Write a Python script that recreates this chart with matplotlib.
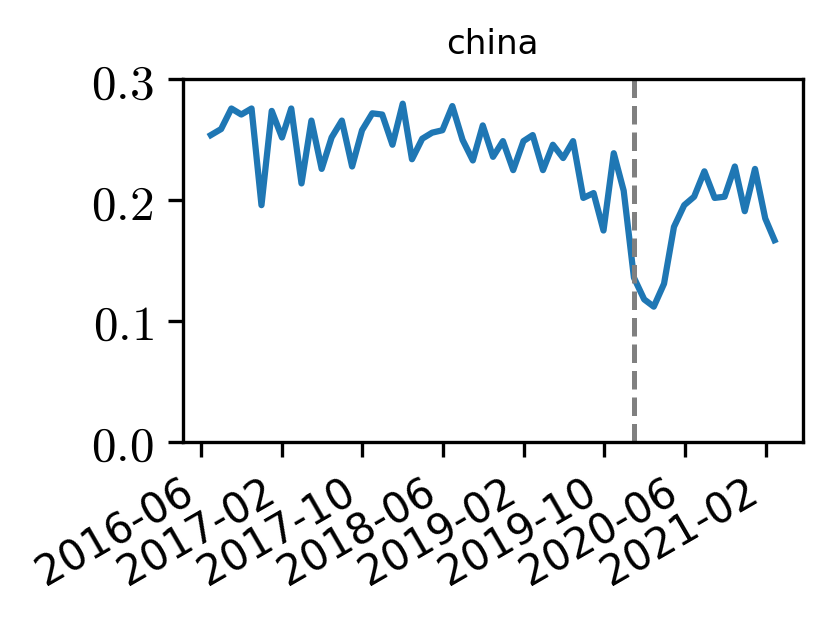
import matplotlib
matplotlib.use("Agg")
import matplotlib.pyplot as plt
import matplotlib.dates as mdates
import matplotlib.ticker as mticker
import pandas as pd

plt.rcParams['mathtext.fontset'] = 'cm'

# monthly values, month-end dates starting 2016-06
start_month = '2016-06-01'
values = [0.254, 0.259, 0.276, 0.271, 0.276, 0.196, 0.274, 0.252, 0.276, 0.214,
          0.266, 0.226, 0.252, 0.266, 0.228, 0.258, 0.272, 0.271, 0.246, 0.280,
          0.234, 0.251, 0.256, 0.258, 0.278, 0.250, 0.233, 0.262, 0.236, 0.249,
          0.225, 0.249, 0.254, 0.225, 0.246, 0.235, 0.249, 0.202, 0.206, 0.175,
          0.239, 0.208, 0.136, 0.118, 0.112, 0.131, 0.178, 0.196, 0.203, 0.224,
          0.202, 0.203, 0.228, 0.191, 0.226, 0.185, 0.167]
event_date = '2020-01-01'
title = 'china'
yticks = [0.0, 0.1, 0.2, 0.3]
xticks = pd.date_range('2016-06-01', '2021-02-01', freq='8MS')

dates = pd.date_range(start_month, periods=len(values), freq='MS') + pd.offsets.MonthEnd(0)

fig = plt.figure(figsize=(830 / 300, 624 / 300), dpi=300)
ax = fig.add_axes([0.2201, 0.2917, 0.747, 0.5809])

ax.plot(dates, values, color='#1f77b4', lw=1.5)
ax.axvline(pd.Timestamp(event_date), color='gray', ls='--', lw=1.2)

ax.set_ylim(0, 0.3)
ax.set_yticks(yticks)
ax.yaxis.set_major_formatter(mticker.FuncFormatter(lambda v, p: f'${v:.1f}$'))
ax.tick_params(axis='y', labelsize=11.8)

ax.xaxis.set_major_locator(mticker.FixedLocator(mdates.date2num(xticks)))
ax.xaxis.set_major_formatter(mdates.DateFormatter('%Y-%m'))
ax.tick_params(axis='x', labelsize=10)
plt.setp(ax.get_xticklabels(), rotation=30, ha='right')

ax.set_title(title, fontsize=8.2)

fig.savefig('out.png', dpi=300)
